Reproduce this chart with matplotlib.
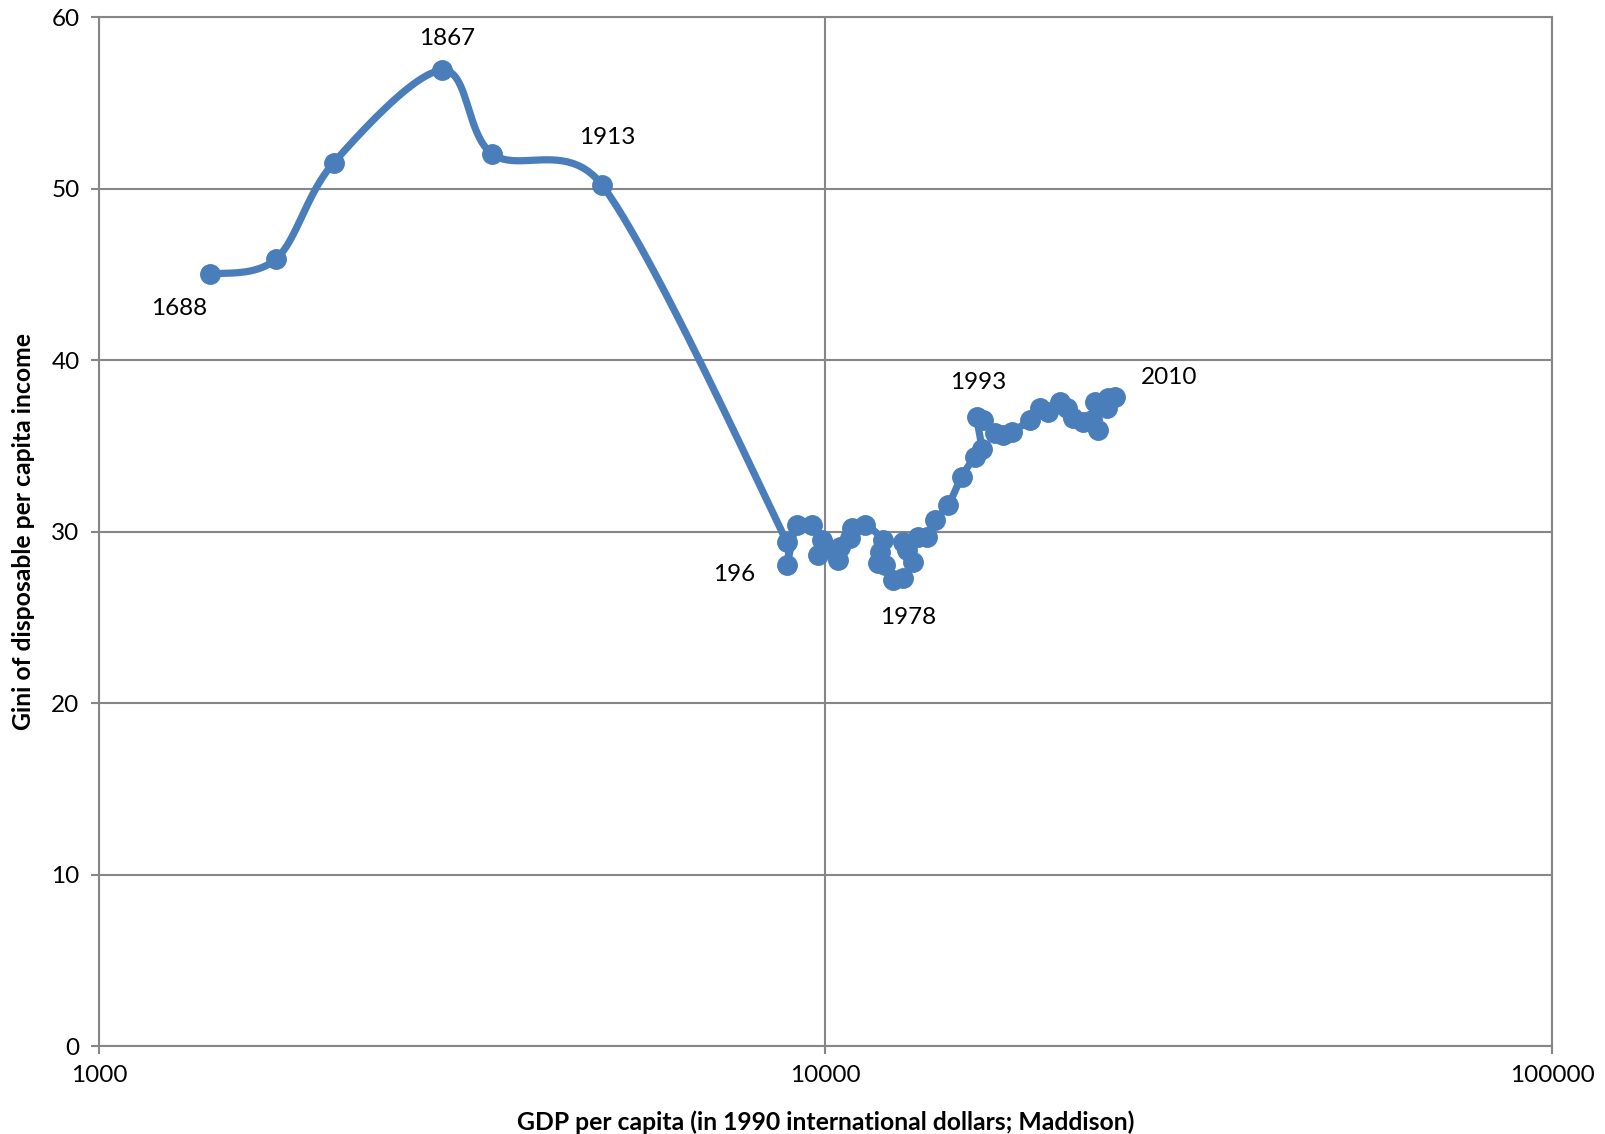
# Gini vs GDP per capita, smoothed line with markers
import numpy as np
import matplotlib
matplotlib.use("Agg")
import matplotlib.pyplot as plt

# data
gdp = [1420, 1754, 2104, 2969, 3480, 4926,
       8844, 8844, 9129, 9573, 9880, 9775, 10039, 10414, 10471, 10807,
       10867, 11334, 12000, 11885, 11810, 12075, 12385, 12785, 13197, 12936,
       12785, 13408, 13783, 14148, 14757, 15399, 16063, 16406, 16150, 16490,
       17114, 17569, 18044, 19117, 19731, 20260, 21025, 21478, 21930, 22638,
       23246, 23738, 23494, 24381, 24505, 25030]
gini = [45.0, 45.9, 51.5, 56.9, 52.0, 50.2,
        29.4, 28.05, 30.38, 30.38, 29.5, 28.63, 29.04, 28.34, 29.11, 29.62,
        30.2, 30.38, 29.5, 28.82, 28.16, 28.05, 27.17, 27.29, 28.24, 28.92,
        29.41, 29.68, 29.7, 30.67, 31.55, 33.2, 34.36, 34.79, 36.69, 36.5,
        35.73, 35.63, 35.82, 36.5, 37.18, 36.99, 37.57, 37.18, 36.6, 36.4,
        36.5, 35.92, 37.57, 37.18, 37.77, 37.86]

labels = ["1688", "1867", "1913", "196", "1978", "1993", "2010"]
label_x = [1288, 3017, 5006, 7489, 13010, 16226, 29690]
label_y = [42.98, 58.76, 52.96, 27.5, 24.98, 38.67, 38.97]

BLUE = "#4a7ebb"
GRID = "#868686"
FONT = "Lato"


def smooth(xs, ys, n=24):
    # catmull-rom style smoothing in screen-like space (log x)
    u = np.log10(xs) * (1453 / 2.0)
    v = np.array(ys) * (1029 / 60.0)
    pts = np.column_stack([u, v])
    out = []
    for i in range(len(pts) - 1):
        p0 = pts[i - 1] if i > 0 else pts[i]
        p1 = pts[i]
        p2 = pts[i + 1]
        p3 = pts[i + 2] if i + 2 < len(pts) else pts[i + 1]
        seglen = np.hypot(*(p2 - p1))
        d1 = (p2 - p0) / 6.0
        d2 = (p3 - p1) / 6.0
        # keep control arms short on short segments
        for d in (d1, d2):
            m = np.hypot(*d)
            if m > 0.5 * seglen and m > 0:
                d *= 0.5 * seglen / m
        c1 = p1 + d1
        c2 = p2 - d2
        t = np.linspace(0, 1, n)[:, None]
        seg = ((1 - t) ** 3) * p1 + 3 * ((1 - t) ** 2) * t * c1 \
            + 3 * (1 - t) * t ** 2 * c2 + t ** 3 * p2
        out.append(seg)
    out = np.vstack(out)
    return 10 ** (out[:, 0] / (1453 / 2.0)), out[:, 1] / (1029 / 60.0)


fig = plt.figure(figsize=(16.06, 11.34), dpi=100)
ax = fig.add_axes([0.0616, 0.0776, 0.9048, 0.9074])

ax.set_xscale("log")
ax.set_xlim(1000, 100000)
ax.set_ylim(0, 60)

sx, sy = smooth(gdp, gini)
ax.plot(sx, sy, color=BLUE, lw=5.2, solid_capstyle="round",
        solid_joinstyle="round", zorder=3)
ax.plot(gdp, gini, "o", color=BLUE, ms=14, zorder=4)

for t, x, y in zip(labels, label_x, label_y):
    ax.text(x, y, t, ha="center", va="center", fontsize=17.5, family=FONT)

ax.set_yticks(range(0, 61, 10))
ax.set_xticks([1000, 10000, 100000])
ax.set_xticklabels(["1000", "10000", "100000"])
ax.minorticks_off()
ax.grid(True, color=GRID, lw=1.5)
ax.set_axisbelow(True)
for s in ax.spines.values():
    s.set_color(GRID)
    s.set_linewidth(1.5)
ax.tick_params(colors=GRID, length=6, width=1.5, labelcolor="black",
               labelsize=17.5, pad=8)
for lab in ax.get_xticklabels() + ax.get_yticklabels():
    lab.set_family(FONT)

ax.set_xlabel("GDP per capita (in 1990 international dollars; Maddison)",
              fontsize=17.8, fontweight="bold", family=FONT, labelpad=17)
ax.set_ylabel("Gini of disposable per capita income",
              fontsize=17.8, fontweight="bold", family=FONT, labelpad=12)

fig.savefig("out.png", dpi=100)
